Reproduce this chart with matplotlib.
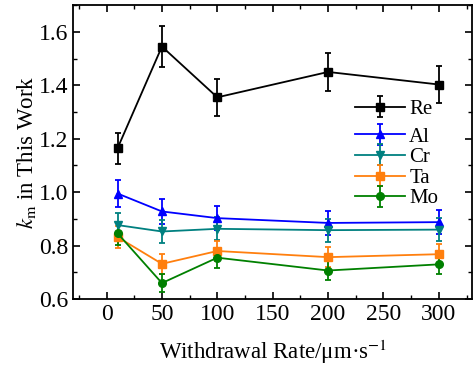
import matplotlib.pyplot as plt
from matplotlib.ticker import MultipleLocator

rates = [10, 50, 100, 200, 300]

re_k = [1.165, 1.545, 1.355, 1.450, 1.403]
re_err = [0.058, 0.078, 0.068, 0.072, 0.070]
al_k = [0.995, 0.928, 0.903, 0.885, 0.888]
al_err = [0.050, 0.046, 0.045, 0.044, 0.044]
cr_k = [0.877, 0.853, 0.863, 0.858, 0.860]
cr_err = [0.044, 0.043, 0.043, 0.043, 0.043]
ta_k = [0.832, 0.732, 0.780, 0.757, 0.768]
ta_err = [0.042, 0.037, 0.039, 0.038, 0.038]
mo_k = [0.846, 0.660, 0.755, 0.707, 0.730]
mo_err = [0.042, 0.035, 0.038, 0.035, 0.037]

plt.rcParams['font.family'] = ['Liberation Serif', 'DejaVu Serif']
plt.rcParams['mathtext.fontset'] = 'stix'

fig, ax = plt.subplots(figsize=(4.73, 3.67), dpi=100)
fig.subplots_adjust(left=0.155, right=0.998, top=0.986, bottom=0.185)

series = [
    ("Re", re_k, re_err, "black", "s"),
    ("Al", al_k, al_err, "#0000ff", "^"),
    ("Cr", cr_k, cr_err, "#008080", "v"),
    ("Ta", ta_k, ta_err, "#ff7f0e", "s"),
    ("Mo", mo_k, mo_err, "#008000", "o"),
]

handles = []
for name, k, err, color, marker in series:
    h = ax.errorbar(rates, k, yerr=err, color=color, marker=marker, markersize=5.5,
                    linewidth=1.3, elinewidth=1.3, capsize=2.5, capthick=1.3, label=name)
    handles.append(h)

leg1 = ax.legend(handles=handles[:1], loc='upper left', bbox_to_anchor=(0.675, 0.722),
                 frameon=False, fontsize=15, handlelength=2.4, handletextpad=0.2,
                 borderpad=0.1)
ax.add_artist(leg1)
ax.legend(handles=handles[1:], loc='upper left', bbox_to_anchor=(0.675, 0.628),
          frameon=False, fontsize=15, handlelength=2.4, handletextpad=0.2,
          labelspacing=0.05, borderpad=0.1)

ax.set_xlim(-30, 330)
ax.set_ylim(0.6, 1.7)
ax.xaxis.set_major_locator(MultipleLocator(50))
ax.xaxis.set_minor_locator(MultipleLocator(25))
ax.yaxis.set_major_locator(MultipleLocator(0.2))
ax.yaxis.set_minor_locator(MultipleLocator(0.1))
ax.yaxis.set_major_formatter(plt.FormatStrFormatter('%.1f'))
ax.tick_params(which='both', direction='in', top=True, right=True, labelsize=17)
ax.tick_params(which='major', length=5, width=1.2)
ax.tick_params(which='minor', length=3, width=1)
for s in ax.spines.values():
    s.set_linewidth(1.3)

ax.set_xlabel("Withdrawal Rate/μm·s$^{-1}$", fontsize=16.5, labelpad=9)
ax.set_ylabel("$k_{\\rm m}$ in This Work", fontsize=16.5, labelpad=1)

fig.savefig("out.png", dpi=100)
